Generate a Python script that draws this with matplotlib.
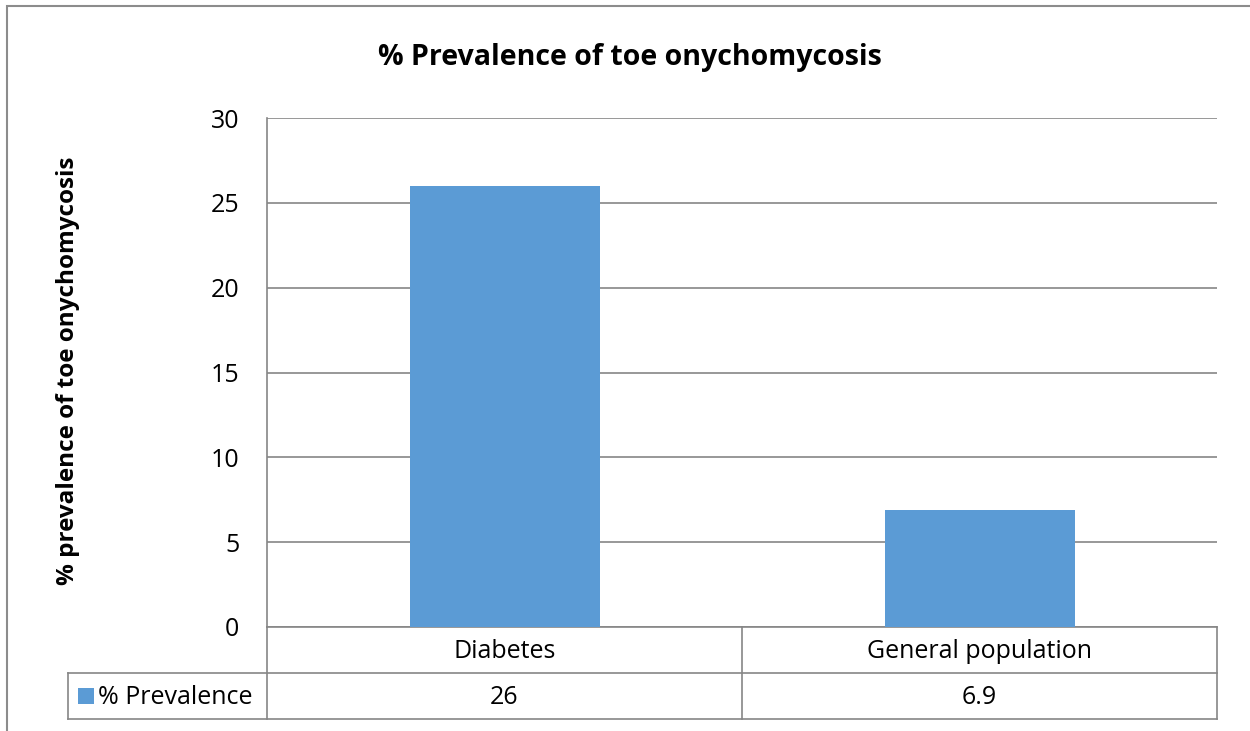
import matplotlib.pyplot as plt
from matplotlib.patches import Rectangle
import matplotlib.transforms as mtransforms

# data
categories = ["Diabetes", "General population"]
values = [26, 6.9]
series_name = "% Prevalence"
title = "% Prevalence of toe onychomycosis"
ylabel = "% prevalence of toe onychomycosis"
yticks = [0, 5, 10, 15, 20, 25, 30]

W, H = 1250, 731
fig = plt.figure(figsize=(W / 100, H / 100), dpi=100)
plt.rcParams['font.family'] = ['Open Sans', 'DejaVu Sans']

bar_color = '#5B9BD5'
line_color = '#868686'
fs = 18

def fx(px):
    return px / W

def fy(py):
    return 1 - py / H

# outer chart border
fig.patches.append(Rectangle((fx(7), fy(740)), 1.2, fy(6) - fy(740), transform=fig.transFigure,
                             fill=False, edgecolor='#8c8c8c', linewidth=1.5))

ax = fig.add_axes([fx(267), fy(627), fx(1217) - fx(267), fy(118) - fy(627)])
x = list(range(len(categories)))
ax.bar(x, values, width=0.4, color=bar_color, zorder=3)
ax.set_xlim(-0.5, len(categories) - 0.5)
ax.set_ylim(0, 30)
ax.set_yticks(yticks)
ax.set_yticklabels([str(t) for t in yticks], fontsize=fs)
ax.tick_params(axis='y', length=0, pad=20)
ax.set_xticks([])
ax.grid(axis='y', color=line_color, linewidth=1.2, zorder=0)
for s in ['top', 'right', 'bottom']:
    ax.spines[s].set_visible(False)
ax.spines['left'].set_color(line_color)
ax.spines['left'].set_linewidth(1.2)

fig.text(fx(630), fy(58), title, ha='center', va='center', fontsize=20.5, fontweight='bold')
fig.text(fx(68), fy(371), ylabel, ha='center', va='center', rotation=90, fontsize=17.5, fontweight='bold')

# data table under the axis
trans = mtransforms.blended_transform_factory(ax.transData, fig.transFigure)
row1_top, row1_bot, row2_bot = fy(627), fy(673), fy(719)
txt1, txt2 = fy(652), fy(697)
xl, xr = -0.5, len(categories) - 0.5
lkw = dict(color=line_color, linewidth=1.2, clip_on=False)
ax.plot([xl, xr], [row1_top, row1_top], transform=trans, **lkw)
for yy in (row1_bot, row2_bot):
    fig.add_artist(plt.Line2D([fx(68), fx(1217)], [yy, yy], transform=fig.transFigure, **lkw))
fig.add_artist(plt.Line2D([fx(68), fx(68)], [row1_bot, row2_bot], transform=fig.transFigure, **lkw))
for i in range(len(categories) + 1):
    ax.plot([i - 0.5, i - 0.5], [row1_top, row2_bot], transform=trans, **lkw)
for i, (c, v) in enumerate(zip(categories, values)):
    ax.text(i, txt1, c, transform=trans, ha='center', va='center', fontsize=fs)
    ax.text(i, txt2, f"{v:g}", transform=trans, ha='center', va='center', fontsize=fs)

# legend key in the table
fig.patches.append(Rectangle((fx(78), fy(704)), fx(16), fy(688) - fy(704), transform=fig.transFigure,
                             facecolor=bar_color, edgecolor='none'))
fig.text(fx(98), txt2, series_name, ha='left', va='center', fontsize=fs)

fig.savefig('out.png', dpi=100, facecolor='white')
